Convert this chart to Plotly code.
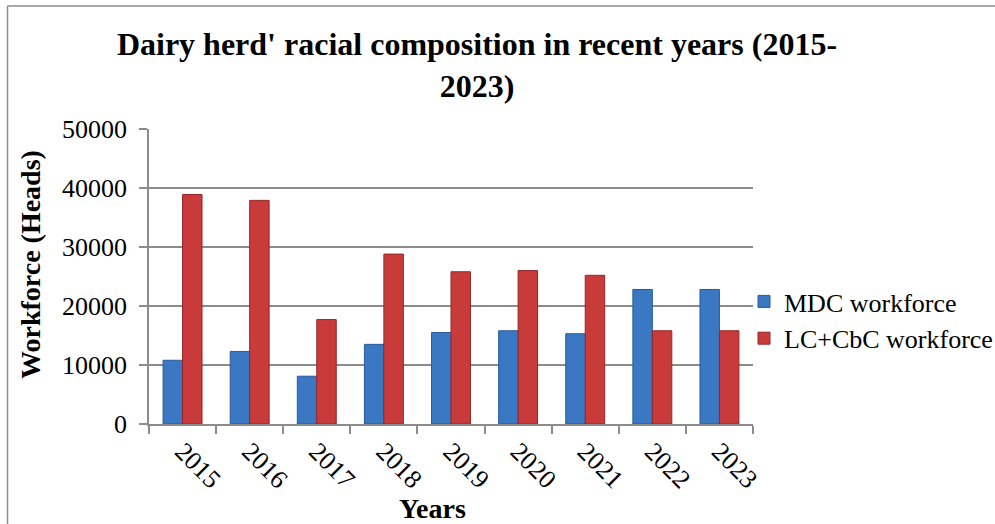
import plotly.graph_objects as go

years = ["2015", "2016", "2017", "2018", "2019", "2020", "2021", "2022", "2023"]
mdc = [10800, 12300, 8100, 13500, 15500, 15800, 15300, 22800, 22800]
lc_cbc = [38900, 37900, 17700, 28800, 25800, 26000, 25200, 15800, 15800]
series_names = ["MDC workforce", "LC+CbC workforce"]
y_ticks = [0, 10000, 20000, 30000, 40000, 50000]
y_tick_text = ["0", "10000", "20000", "30000", "40000", "50000"]

W, H = 995, 524
L, R, T, B = 149, 242, 129, 100
pw, ph = W - L - R, H - T - B
FONT = "Liberation Serif"
GRID = "#8c8c8c"

fig = go.Figure()
fig.add_trace(go.Bar(x=years, y=mdc, name=series_names[0],
                     marker=dict(color="#3a78c4", line=dict(color="#2a5a99", width=1))))
fig.add_trace(go.Bar(x=years, y=lc_cbc, name=series_names[1],
                     marker=dict(color="#c93a3a", line=dict(color="#962626", width=1))))

fig.update_layout(
    width=W, height=H,
    margin=dict(l=L, r=R, t=T, b=B, autoexpand=False),
    paper_bgcolor="white", plot_bgcolor="white",
    font=dict(family=FONT, size=26, color="black"),
    barmode="group", bargap=0.42, bargroupgap=0,
    title=dict(text="<b>Dairy herd' racial composition in recent years (2015-<br>2023)</b>",
               x=477 / W, xref="container", xanchor="center",
               y=1 - 55 / H, yref="container", yanchor="middle",
               font=dict(family=FONT, size=32, color="black")),
    legend=dict(x=(744 - L) / pw, xanchor="left", y=(424 - 320) / ph, yanchor="middle",
                font=dict(family=FONT, size=26), itemwidth=30, tracegroupgap=0,
                bgcolor="rgba(0,0,0,0)"),
    xaxis=dict(type="category", tickangle=45, showline=True, linecolor=GRID, linewidth=1.5,
               ticks="outside", tickson="boundaries", ticklen=8, tickcolor=GRID, tickwidth=1.5,
               showgrid=False, tickfont=dict(family=FONT, size=26)),
    yaxis=dict(range=[0, 50000], tickvals=y_ticks, ticktext=y_tick_text, showline=True,
               linecolor=GRID, linewidth=1.5,
               ticks="outside", ticklen=8, tickcolor=GRID, tickwidth=1.5,
               ticklabelstandoff=7,
               showgrid=True, gridcolor=GRID, gridwidth=1.5, zeroline=False,
               tickfont=dict(family=FONT, size=26)),
    showlegend=True,
)

def px_x(p):
    return (p - L) / pw

def px_y(p):
    return (H - B - p) / ph

fig.add_annotation(text="<b>Workforce (Heads)</b>", textangle=-90, showarrow=False,
                   xref="paper", yref="paper", x=px_x(30), y=px_y(265),
                   xanchor="center", yanchor="middle", font=dict(family=FONT, size=28))
fig.add_annotation(text="<b>Years</b>", showarrow=False,
                   xref="paper", yref="paper", x=px_x(432), y=px_y(508),
                   xanchor="center", yanchor="middle", font=dict(family=FONT, size=28))

fig.add_shape(type="line", xref="paper", yref="paper", x0=px_x(7.5), x1=px_x(1000),
              y0=px_y(6), y1=px_y(6), line=dict(color="#8c8c8c", width=1.5))
fig.add_shape(type="line", xref="paper", yref="paper", x0=px_x(7.5), x1=px_x(7.5),
              y0=px_y(6), y1=px_y(530), line=dict(color="#8c8c8c", width=1.5))

fig.write_html("out.html")
